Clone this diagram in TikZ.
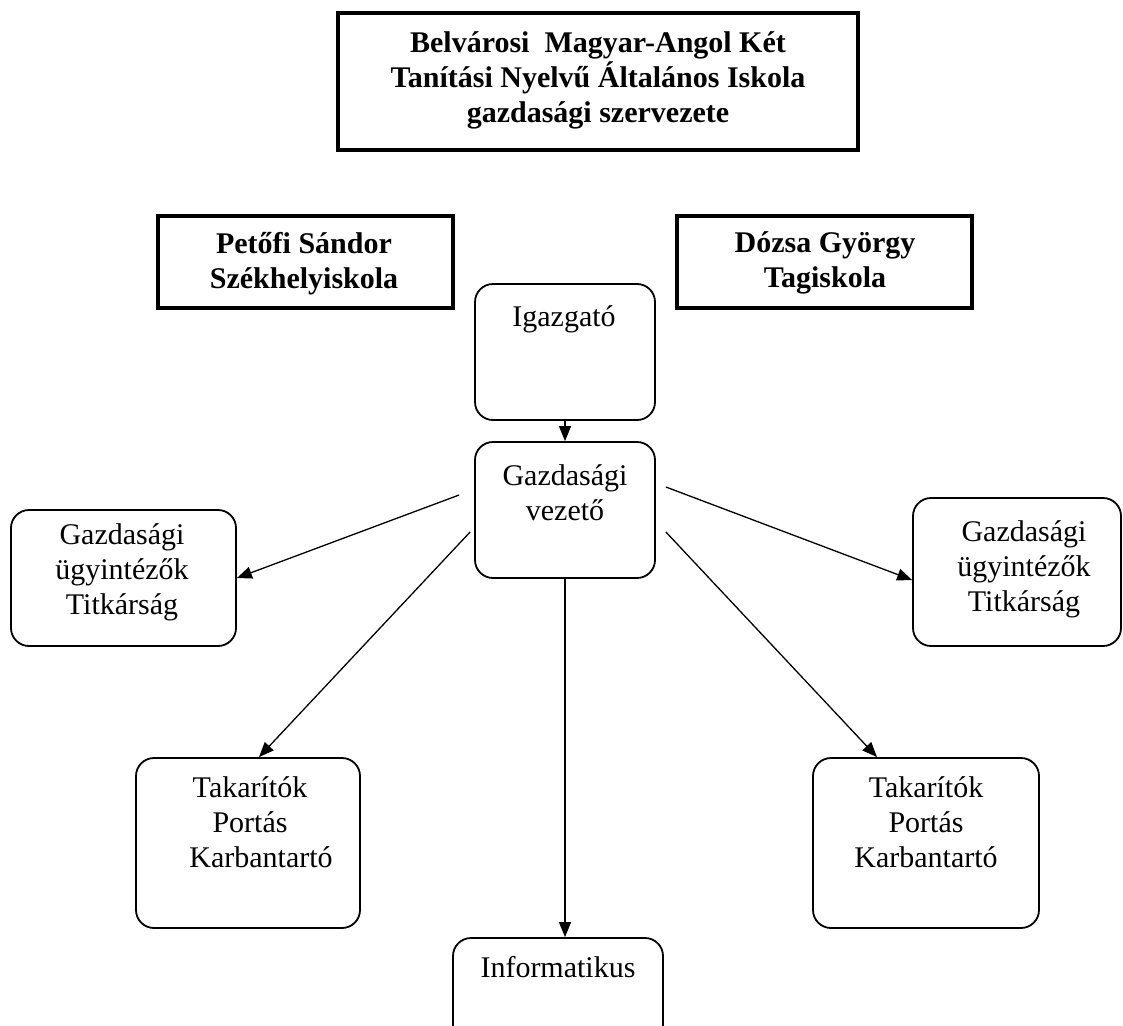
\documentclass[tikz,border=0pt]{standalone}
\usepackage{fontspec}
\setmainfont{Liberation Serif}
\usetikzlibrary{arrows.meta}
\usetikzlibrary{positioning}

\tikzset{
	fejdoboz/.style={draw,line width=3.3pt,inner sep=0pt},
	doboz/.style={draw,line width=1.8pt,rounded corners=18pt,inner sep=0pt},
	szoveg/.style={align=center,inner sep=0pt,font=\fontsize{30}{35}\selectfont},
	vastag/.style={szoveg,font=\fontsize{30}{35}\selectfont\bfseries},
	nyil/.style={-{Triangle[length=15pt,width=12pt]},line width=1.3pt}
}

\begin{document}
\begin{tikzpicture}[x=1pt,y=-1pt]
	\clip (0,0) rectangle (1123,1025);
	% fejlec dobozok
	\node[fejdoboz,minimum width=520pt,minimum height=137pt] (cim) at (598,81.5) {};
	\node[vastag] (cimT) at (598,80) {Belvárosi\ \ Magyar-Angol Két\\Tanítási Nyelvű Általános Iskola\\gazdasági szervezete};
	\node[fejdoboz,minimum width=295pt,minimum height=92pt] (petofi) at (305.5,262) {};
	\node[vastag] (petofiT) at (304,263.5) {Petőfi Sándor\\Székhelyiskola};
	\node[fejdoboz,minimum width=295pt,minimum height=92pt] (dozsa) at (824.5,262) {};
	\node[vastag] (dozsaT) at (825,262.5) {Dózsa György\\Tagiskola};
	% lekerekitett dobozok
	\node[doboz,minimum width=180pt,minimum height=136pt] (igazgato) at (565,352) {};
	\node[szoveg] (igazgatoT) at (564,319) {Igazgató};
	\node[doboz,minimum width=180pt,minimum height=136pt] (gvez) at (565,510) {};
	\node[szoveg] (gvezT) at (565,493) {Gazdasági\\vezető};
	\node[doboz,minimum width=225pt,minimum height=136pt] (ugyL) at (123.5,578) {};
	\node[szoveg] (ugyLT) at (122,572) {Gazdasági\\ügyintézők\\Titkárság};
	\node[doboz,minimum width=208pt,minimum height=148pt] (ugyR) at (1017,572) {};
	\node[szoveg] (ugyRT) at (1024,569.5) {Gazdasági\\ügyintézők\\Titkárság};
	\node[doboz,minimum width=224pt,minimum height=170pt] (takL) at (248,843) {};
	\node[szoveg] (takLT) at (250,822.5) {Takarítók\\Portás\\\hspace*{22pt}Karbantartó};
	\node[doboz,minimum width=226pt,minimum height=170pt] (takR) at (926,843) {};
	\node[szoveg] (takRT) at (926,822.5) {Takarítók\\Portás\\Karbantartó};
	\node[doboz,minimum width=210pt,minimum height=130pt] (info) at (558,1003) {};
	\node[szoveg] (infoT) at (558,967) {Informatikus};
	% nyilak
	\draw[nyil] (igazgato.south) -- (gvez.north);
	\draw[nyil] ([xshift=-15pt,yshift=15pt]gvez.west) -- (ugyL.east);
	\draw[nyil] ([xshift=-4pt,yshift=-22pt]gvez.west) -- ([xshift=11pt]takL.north);
	\draw[nyil] ([xshift=10pt,yshift=23pt]gvez.east) -- ([yshift=-8pt]ugyR.west);
	\draw[nyil] ([xshift=10pt,yshift=-22pt]gvez.east) -- ([xshift=-49pt]takR.north);
	\draw[nyil] (gvez.south) -- (gvez.south |- info.north);
\end{tikzpicture}
\end{document}
